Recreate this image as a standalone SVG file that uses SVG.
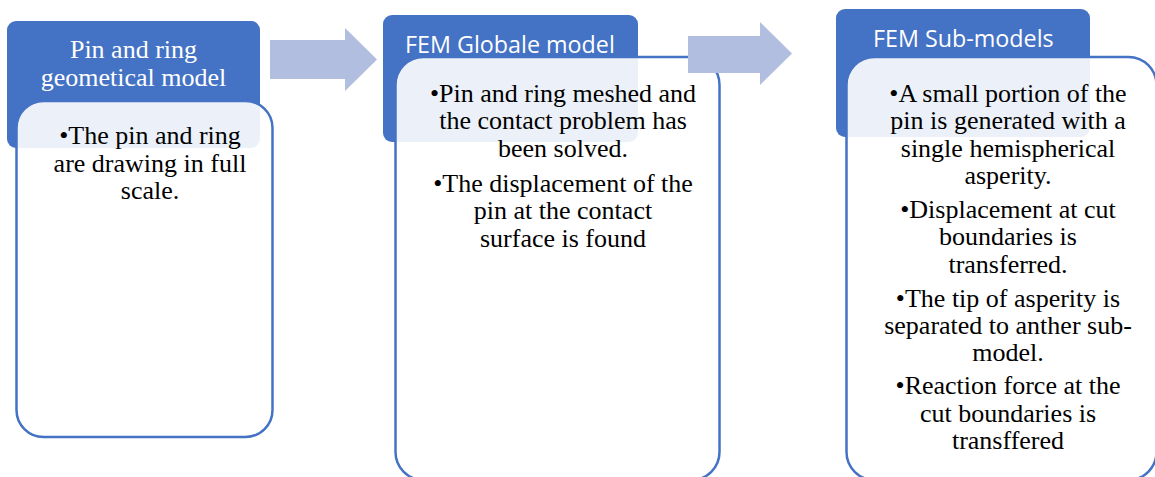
<svg xmlns="http://www.w3.org/2000/svg" width="1155" height="477" viewBox="0 0 1155 477">
  <defs>
    <style>
      .head { fill: #4472C4; }
      .body { fill: #FFFFFF; fill-opacity: 0.9; stroke: #4472C4; stroke-width: 2.5; }
      .arrow { fill: #B1BEE0; }
      .htxt-serif { font-family: "Liberation Serif", "Times New Roman", serif; font-size: 26px; fill: #FFFFFF; text-anchor: middle; }
      .htxt-sans { font-family: "Open Sans", "Liberation Sans", sans-serif; font-size: 23.3px; fill: #FFFFFF; }
      .btxt { font-family: "Liberation Serif", "Times New Roman", serif; font-size: 26px; fill: #000000; text-anchor: middle; }
    </style>
  </defs>
  <rect width="1155" height="477" fill="#FFFFFF"/>

  <!-- Step 1: geometry -->
  <g id="node-geometry">
    <rect class="head" x="7" y="21" width="253" height="127" rx="9"/>
    <text class="htxt-serif" x="133.5" y="58">Pin and ring</text>
    <text class="htxt-serif" x="133.5" y="86">geometical model</text>
    <rect class="body" x="16.5" y="101" width="256" height="336" rx="27"/>
    <text class="btxt" x="150" y="144">•The pin and ring</text>
    <text class="btxt" x="150" y="172">are drawing in full</text>
    <text class="btxt" x="150" y="199">scale.</text>
  </g>

  <!-- Step 2: global FEM model -->
  <g id="node-global">
    <rect class="head" x="383" y="15" width="255" height="127" rx="9"/>
    <text class="htxt-sans" x="405" y="53">FEM Globale model</text>
    <rect class="body" x="395.5" y="57" width="324" height="423" rx="28"/>
    <text class="btxt" x="563" y="102">•Pin and ring meshed and</text>
    <text class="btxt" x="563" y="129">the contact problem has</text>
    <text class="btxt" x="563" y="157">been solved.</text>
    <text class="btxt" x="563" y="192">•The displacement of the</text>
    <text class="btxt" x="563" y="219">pin at the contact</text>
    <text class="btxt" x="563" y="247">surface is found</text>
  </g>

  <!-- Step 3: sub-models -->
  <g id="node-submodels">
    <rect class="head" x="836" y="9" width="254" height="128" rx="9"/>
    <text class="htxt-sans" x="873" y="47">FEM Sub-models</text>
    <rect class="body" x="846.5" y="57" width="310" height="423" rx="28"/>
    <text class="btxt" x="1008" y="102">•A small portion of the</text>
    <text class="btxt" x="1008" y="129">pin is generated with a</text>
    <text class="btxt" x="1008" y="157">single hemispherical</text>
    <text class="btxt" x="1008" y="184">asperity.</text>
    <text class="btxt" x="1008" y="218">•Displacement at cut</text>
    <text class="btxt" x="1008" y="245">boundaries is</text>
    <text class="btxt" x="1008" y="273">transferred.</text>
    <text class="btxt" x="1008" y="307">•The tip of asperity is</text>
    <text class="btxt" x="1008" y="334">separated to anther sub-</text>
    <text class="btxt" x="1008" y="361">model.</text>
    <text class="btxt" x="1008" y="394">•Reaction force at the</text>
    <text class="btxt" x="1008" y="422">cut boundaries is</text>
    <text class="btxt" x="1008" y="449">transffered</text>
  </g>

  <!-- Flow arrows between steps -->
  <g id="connectors">
    <polygon class="arrow" points="270,40 345,40 345,28 377,59.5 345,91 345,79 270,79"/>
    <polygon class="arrow" points="688,36 760,36 760,22 792,53.5 760,85 760,73 688,73"/>
  </g>
</svg>
